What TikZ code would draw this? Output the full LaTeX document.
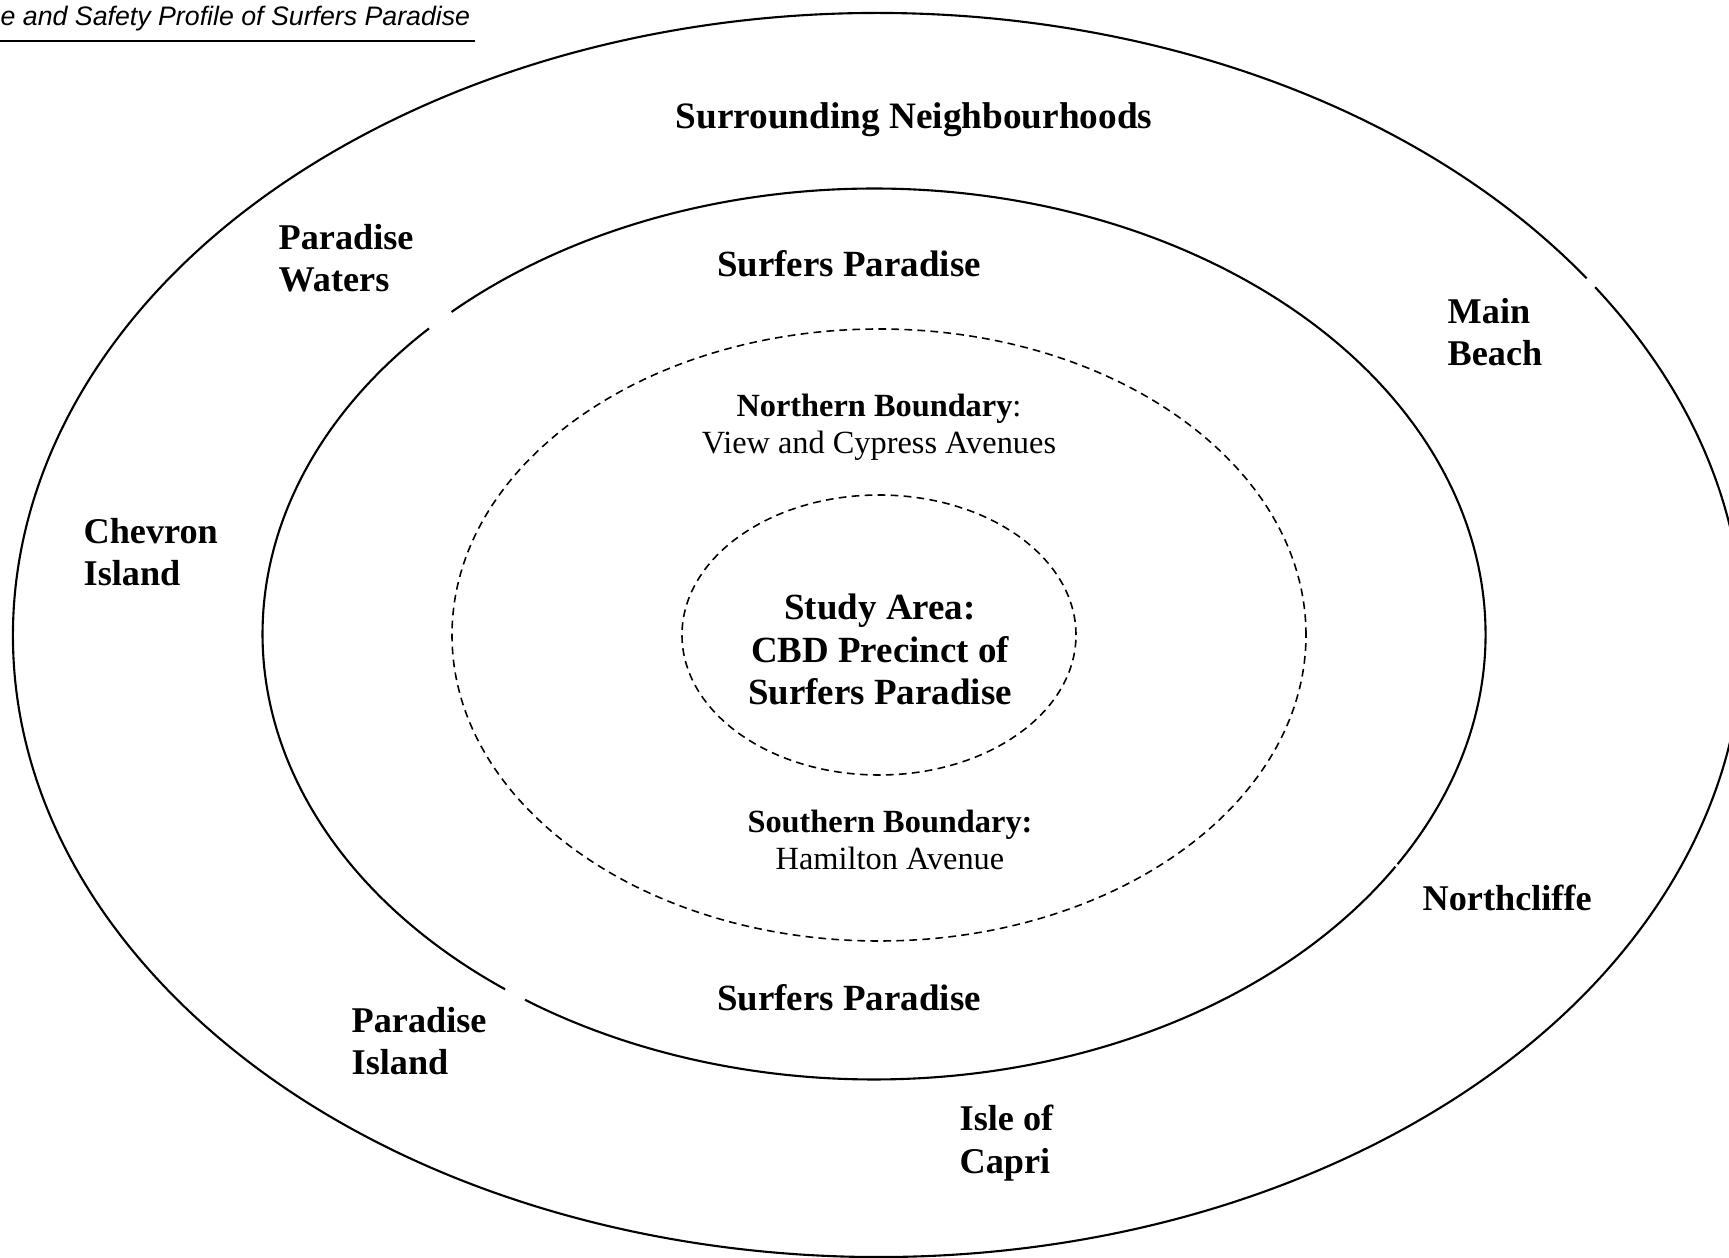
\documentclass[tikz,border=0pt]{standalone}
\usepackage{fontspec}
\setmainfont{Liberation Serif}
\newfontfamily\headfont{Liberation Sans}
\usetikzlibrary{positioning}

\begin{document}
\begin{tikzpicture}[x = 0.01cm, y = 0.01cm,
  ring/.style = {line width = 0.6pt},
  zone/.style = {line width = 0.45pt, dash pattern = on 2.2pt off 1.5pt},
  place/.style = {align = left, anchor = base west, inner sep = 0pt, font = \fontsize{10.3}{12}\selectfont\bfseries},
  area/.style = {align = center, anchor = base, inner sep = 0pt, font = \fontsize{10.5}{12.2}\selectfont\bfseries},
  bound/.style = {align = center, anchor = base, inner sep = 0pt, font = \fontsize{9.2}{10.7}\selectfont}]
\useasboundingbox (0,0) rectangle (1729,-1258);
% running head
\node[anchor = base west, inner sep = 0pt, font = \headfont\itshape\fontsize{7.6}{9}\selectfont] (head) at (0,-26) {e and Safety Profile of Surfers Paradise};
\coordinate (rulea) at (0,-41);
\coordinate (ruleb) at (475,-41);
\draw[line width = 0.35pt] (rulea) -- (ruleb);
% rings
\coordinate (outer) at (878,-635);
\coordinate (inner) at (874,-634);
\coordinate (mid) at (879,-635);
\draw[ring] (outer) ++(35:865 and 622) arc[start angle = 35, end angle = 394, x radius = 865, y radius = 622];
\draw[ring] (inner) ++(136.7:611.5 and 445.5) arc[start angle = 136.7, end angle = 232.9, x radius = 611.5, y radius = 445.5];
\draw[ring] (inner) ++(235.2:611.5 and 445.5) arc[start angle = 235.2, end angle = 328.5, x radius = 611.5, y radius = 445.5];
\draw[ring] (inner) ++(328.9:611.5 and 445.5) arc[start angle = 328.9, end angle = 493.7, x radius = 611.5, y radius = 445.5];
\draw[zone] (mid) ellipse [x radius = 427, y radius = 306];
\draw[zone] (mid) ellipse [x radius = 197, y radius = 140];
% labels (multi-line nodes sit on their last baseline)
\node[area, font = \fontsize{10.6}{12.2}\selectfont\bfseries] (around) at (914,-129) {Surrounding Neighbourhoods};
\node[place] (waters) at (278,-292) {Paradise\\Waters};
\node[place] (chevron) at (83,-586) {Chevron\\Island};
\node[place] (mainbeach) at (1447,-366) {Main\\Beach};
\node[place] (northcliffe) at (1422,-911) {Northcliffe};
\node[place] (island) at (351,-1075) {Paradise\\Island};
\node[place] (capri) at (959,-1173) {Isle of\\Capri};
\node[area] (surfersn) at (849,-277) {Surfers Paradise};
\node[area] (surferss) at (849,-1011) {Surfers Paradise};
\node[bound] (north) at (879,-454) {\textbf{Northern Boundary}:\\View and Cypress Avenues};
\node[area] (study) at (880,-705) {Study Area:\\CBD Precinct of\\Surfers Paradise};
\node[bound] (south) at (890,-870) {\textbf{Southern Boundary:}\\Hamilton Avenue};
\end{tikzpicture}
\end{document}
